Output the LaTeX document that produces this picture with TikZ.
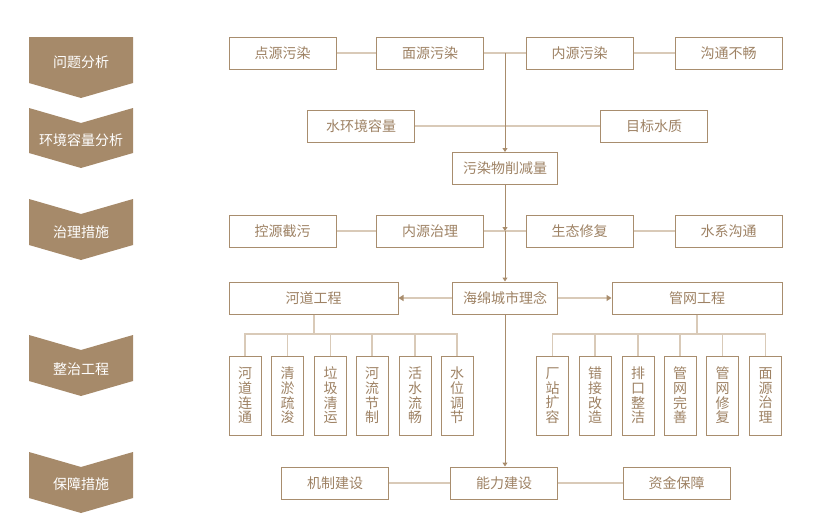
\documentclass[tikz,border=0pt]{standalone}
\usepackage{fontspec}
\setmainfont{Noto Sans CJK SC}
\usetikzlibrary{arrows.meta}
\definecolor{chev}{HTML}{A68A6A}
\definecolor{bord}{HTML}{A88D6E}
\definecolor{txt}{HTML}{9E8264}
\definecolor{conn}{HTML}{D9CAB8}
\definecolor{trunk}{HTML}{A88C6C}
\tikzset{
  box/.style={draw=bord, line width=1pt, fill=white, text=txt, font=\fontsize{14}{14.5}\selectfont, inner sep=0pt, minimum height=32, minimum width=107},
  vbox/.style={box, minimum width=32, minimum height=79, align=center, font=\fontsize{14}{14.6}\selectfont},
  wbox/.style={box, minimum width=170},
  link/.style={draw=conn, line width=2pt},
  main/.style={draw=trunk, line width=1pt},
  arr/.style={main, -{Triangle[length=4pt,width=5pt]}},
  sarr/.style={draw=conn, line width=2pt, -{Triangle[length=5pt,width=6pt,color=trunk,fill=trunk]}},
  bus/.style={draw=conn, line width=1.6pt},
  chevtext/.style={text=white, font=\fontsize{14}{14}\selectfont},
}
\begin{document}
\begin{tikzpicture}[x=1pt,y=-1pt]
\useasboundingbox (0,0) rectangle (815,525);
% chevrons
\fill[chev] (29,37) -- (133,37) -- (133,83) -- (81,98) -- (29,83) -- cycle;
\foreach \t/\b in {108/153,199/245,335/381,452/498}{
  \fill[chev] (29,\t) -- (81,\t+15) -- (133,\t) -- (133,\b) -- (81,\b+15) -- (29,\b) -- cycle;
}
\node[chevtext] (c1) at (81,62) {问题分析};
\node[chevtext] (c2) at (81,140) {环境容量分析};
\node[chevtext] (c3) at (81,232) {治理措施};
\node[chevtext] (c4) at (81,369) {整治工程};
\node[chevtext] (c5) at (81,484) {保障措施};

% row 1
\node[box] (a1) at (282.5,53) {点源污染};
\node[box] (a2) at (430,53) {面源污染};
\node[box] (a3) at (579.5,53) {内源污染};
\node[box] (a4) at (728.5,53) {沟通不畅};
\coordinate (j1) at (505,53);
% row 2
\node[box] (b1) at (361,126) {水环境容量};
\node[box] (b2) at (654,126) {目标水质};
\node[box, minimum width=105] (p) at (505,168.5) {污染物削减量};
% row 3
\node[box] (d1) at (282.5,231) {控源截污};
\node[box] (d2) at (430,231) {内源治理};
\node[box] (d3) at (579.5,231) {生态修复};
\node[box] (d4) at (728.5,231) {水系沟通};
\coordinate (j3) at (505,231);
% row 4
\node[wbox, minimum width=169] (r) at (313.5,298) {河道工程};
\node[box, minimum width=105] (s) at (505,298) {海绵城市理念};
\node[wbox] (g) at (697,298) {管网工程};
% river children
\node[vbox] (r1) at (245,395.5) {河\\道\\连\\通};
\node[vbox] (r2) at (287.5,395.5) {清\\淤\\疏\\浚};
\node[vbox] (r3) at (330.5,395.5) {垃\\圾\\清\\运};
\node[vbox] (r4) at (372,395.5) {河\\流\\节\\制};
\node[vbox] (r5) at (415,395.5) {活\\水\\流\\畅};
\node[vbox] (r6) at (457,395.5) {水\\位\\调\\节};
% pipe children
\node[vbox] (g1) at (552.5,395.5) {厂\\站\\扩\\容};
\node[vbox] (g2) at (595,395.5) {错\\接\\改\\造};
\node[vbox] (g3) at (638,395.5) {排\\口\\整\\洁};
\node[vbox] (g4) at (680,395.5) {管\\网\\完\\善};
\node[vbox] (g5) at (722.5,395.5) {管\\网\\修\\复};
\node[vbox] (g6) at (765.5,395.5) {面\\源\\治\\理};
% row 6
\node[box] (e1) at (335,483) {机制建设};
\node[box] (e2) at (504,483) {能力建设};
\node[box] (e3) at (676.5,483) {资金保障};

% connectors row 1
\draw[link] (a1) -- (a2);
\draw[link] (a2) -- (a3);
\draw[link] (a3) -- (a4);
% row 2
\draw[link] (b1) -- (b2);
% row 3
\draw[link] (d1) -- (d2);
\draw[link] (d2) -- (d3);
\draw[link] (d3) -- (d4);
% row 6
\draw[link] (e1) -- (e2);
\draw[link] (e2) -- (e3);
% main trunk
\draw[arr] (j1) -- (p.north);
\draw[arr] (p.south) -- (j3);
\draw[arr] (j3) -- (s.north);
\draw[arr] (s.south) -- (e2.north -| s.south);
% sponge to branches
\draw[sarr] (s.west) -- (r.east);
\draw[sarr] (s.east) -- (g.east -| g.west);
% river bus
\coordinate (rb) at (314,334);
\draw[bus] (r.south -| rb) -- (rb);
\draw[bus] (r1.north) -- (r1.north |- rb) -- (r6.north |- rb) -- (r6.north);
\foreach \n in {r2,r3,r4,r5}{\draw[bus] (\n.north) -- (\n.north |- rb);}
% pipe bus
\coordinate (gb) at (697,334);
\draw[bus] (g.south -| gb) -- (gb);
\draw[bus] (g1.north) -- (g1.north |- gb) -- (g6.north |- gb) -- (g6.north);
\foreach \n in {g2,g3,g4,g5}{\draw[bus] (\n.north) -- (\n.north |- gb);}
\end{tikzpicture}
\end{document}
